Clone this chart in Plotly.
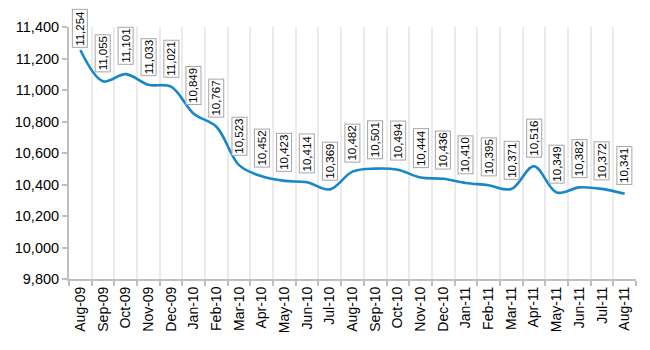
import plotly.graph_objects as go

months = ["Aug-09", "Sep-09", "Oct-09", "Nov-09", "Dec-09", "Jan-10", "Feb-10", "Mar-10",
          "Apr-10", "May-10", "Jun-10", "Jul-10", "Aug-10", "Sep-10", "Oct-10", "Nov-10",
          "Dec-10", "Jan-11", "Feb-11", "Mar-11", "Apr-11", "May-11", "Jun-11", "Jul-11", "Aug-11"]
values = [11254, 11055, 11101, 11033, 11021, 10849, 10767, 10523,
          10452, 10423, 10414, 10369, 10482, 10501, 10494, 10444,
          10436, 10410, 10395, 10371, 10516, 10349, 10382, 10372, 10341]
y_ticks = [9800, 10000, 10200, 10400, 10600, 10800, 11000, 11200, 11400]

fig = go.Figure()
fig.add_trace(go.Scatter(
    x=months, y=values, mode="lines",
    line=dict(color="#1786cb", width=2.6, shape="spline", smoothing=1.0),
    cliponaxis=False, hoverinfo="skip",
))

for i, (m, v) in enumerate(zip(months, values)):
    fig.add_annotation(
        x=m, y=v, text=f"{v:,}", textangle=-90, showarrow=False,
        xanchor="center", yanchor="bottom", yshift=2 if i == 0 else 9,
        font=dict(family="Liberation Sans, Arial", size=11.5, color="#000000"),
        bgcolor="#ffffff", bordercolor="#a6a6a6", borderwidth=1, borderpad=1,
    )

fig.update_layout(
    width=650, height=350,
    margin=dict(l=69, r=14, t=27, b=71),
    paper_bgcolor="#ffffff", plot_bgcolor="#ffffff",
    showlegend=False,
    font=dict(family="Liberation Sans, Arial", size=13, color="#000000"),
)
fig.update_xaxes(
    type="category", tickson="boundaries", tickangle=-90,
    showgrid=True, gridcolor="#ebebeb", gridwidth=2,
    showline=True, linecolor="#bfbfbf", linewidth=2,
    ticks="outside", ticklen=5, tickcolor="#bfbfbf", tickwidth=2,
    tickfont=dict(size=14), range=[-0.5, len(months) - 0.5],
)
fig.update_yaxes(
    range=[9800, 11400], tickvals=y_ticks, tickformat=",",
    showgrid=False, zeroline=False,
    showline=True, linecolor="#bfbfbf", linewidth=2,
    ticks="outside", ticklen=5, tickcolor="#bfbfbf", tickwidth=2,
    tickfont=dict(size=14.5),
)

fig.write_html("out.html")
